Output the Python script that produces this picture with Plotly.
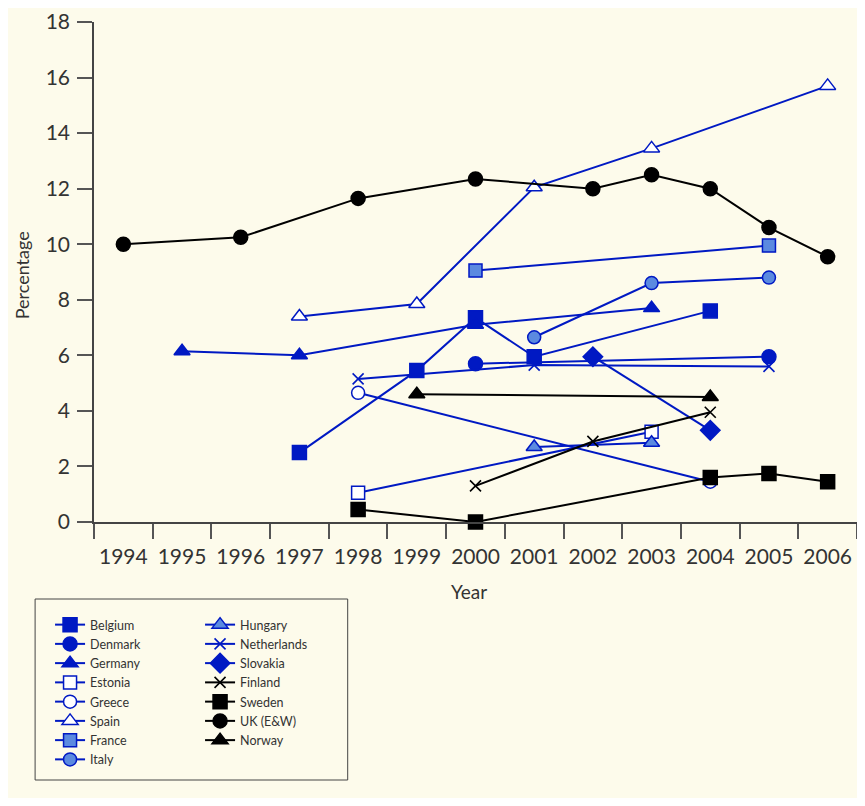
import plotly.graph_objects as go

# ---- data ----
belgium_years = [1997, 1999, 2000, 2001, 2004]
belgium_vals = [2.5, 5.45, 7.35, 5.95, 7.6]
denmark_years = [2000, 2005]
denmark_vals = [5.7, 5.95]
germany_years = [1995, 1997, 2000, 2003]
germany_vals = [6.15, 6.0, 7.1, 7.7]
estonia_years = [1998, 2003]
estonia_vals = [1.05, 3.25]
greece_years = [1998, 2004]
greece_vals = [4.65, 1.45]
spain_years = [1997, 1999, 2001, 2003, 2006]
spain_vals = [7.4, 7.85, 12.05, 13.45, 15.7]
france_years = [2000, 2005]
france_vals = [9.05, 9.95]
italy_years = [2001, 2003, 2005]
italy_vals = [6.65, 8.6, 8.8]
hungary_years = [2001, 2003]
hungary_vals = [2.7, 2.85]
netherlands_years = [1998, 2001, 2005]
netherlands_vals = [5.15, 5.65, 5.6]
slovakia_years = [2002, 2004]
slovakia_vals = [5.95, 3.3]
finland_years = [2000, 2002, 2004]
finland_vals = [1.3, 2.9, 3.95]
sweden_years = [1998, 2000, 2004, 2005, 2006]
sweden_vals = [0.45, 0.0, 1.6, 1.75, 1.45]
uk_years = [1994, 1996, 1998, 2000, 2002, 2003, 2004, 2005, 2006]
uk_vals = [10.0, 10.25, 11.65, 12.35, 12.0, 12.5, 12.0, 10.6, 9.55]
norway_years = [1999, 2004]
norway_vals = [4.6, 4.5]

year_ticks = list(range(1994, 2007))
y_ticks = list(range(0, 19, 2))

BLUE = "#0019c3"
LIGHT = "#5b8ae0"
BLACK = "#000000"
WHITE = "#ffffff"
BG = "#fdfbeb"
TXT = "#333333"
FONT = "Lato"

series = [
    ("Belgium", belgium_years, belgium_vals, BLUE, "square", BLUE, 14, "legend"),
    ("Denmark", denmark_years, denmark_vals, BLUE, "circle", BLUE, 14, "legend"),
    ("Germany", germany_years, germany_vals, BLUE, "triangle-up", BLUE, 14, "legend"),
    ("Estonia", estonia_years, estonia_vals, BLUE, "square", WHITE, 13, "legend"),
    ("Greece", greece_years, greece_vals, BLUE, "circle", WHITE, 13, "legend"),
    ("Spain", spain_years, spain_vals, BLUE, "triangle-up", WHITE, 14, "legend"),
    ("France", france_years, france_vals, BLUE, "square", LIGHT, 13, "legend"),
    ("Italy", italy_years, italy_vals, BLUE, "circle", LIGHT, 13, "legend"),
    ("Hungary", hungary_years, hungary_vals, BLUE, "triangle-up", LIGHT, 14, "legend2"),
    ("Netherlands", netherlands_years, netherlands_vals, BLUE, "x-thin", BLUE, 11, "legend2"),
    ("Slovakia", slovakia_years, slovakia_vals, BLUE, "diamond", BLUE, 15, "legend2"),
    ("Finland", finland_years, finland_vals, BLACK, "x-thin", BLACK, 11, "legend2"),
    ("Sweden", sweden_years, sweden_vals, BLACK, "square", BLACK, 14, "legend2"),
    ("UK (E&W)", uk_years, uk_vals, BLACK, "circle", BLACK, 14, "legend2"),
    ("Norway", norway_years, norway_vals, BLACK, "triangle-up", BLACK, 14, "legend2"),
]

fig = go.Figure()
for name, xs, ys, col, sym, fill, size, leg in series:
    thin = sym.startswith("x-thin")
    fig.add_trace(go.Scatter(
        x=xs, y=ys, name=name, mode="lines+markers", legend=leg,
        cliponaxis=False,
        line=dict(color=col, width=2),
        marker=dict(symbol=sym, size=size, color=fill,
                    line=dict(color=col, width=1.5 if not thin else 1.6)),
    ))

fig.update_layout(
    width=849, height=790,
    paper_bgcolor=BG, plot_bgcolor=BG,
    margin=dict(l=86, r=0, t=14, b=276, autoexpand=False),
    font=dict(family=FONT, color=TXT),
    legend=dict(x=-0.0576, y=-0.176, xanchor="left", yanchor="top",
                bgcolor="rgba(0,0,0,0)", font=dict(size=12.5, family=FONT, color=TXT)),
    legend2=dict(x=0.139, y=-0.176, xanchor="left", yanchor="top",
                 bgcolor="rgba(0,0,0,0)", font=dict(size=12.5, family=FONT, color=TXT)),
    xaxis=dict(
        range=[1993.5, 2006.5], tickvals=year_ticks, ticktext=[str(y) for y in year_ticks],
        ticks="", showgrid=False, zeroline=False, showline=True, linecolor="#444",
        linewidth=1.5, ticklabelstandoff=15,
        tickfont=dict(size=21, family=FONT, color=TXT),
        minor=dict(tick0=1993.5, dtick=1, ticks="outside", ticklen=15, tickcolor="#555", tickwidth=1.5),
    ),
    yaxis=dict(
        range=[0, 18], tickvals=y_ticks, ticks="outside", ticklen=15, tickcolor="#555", tickwidth=1.5,
        showgrid=False, zeroline=False, showline=True, linecolor="#444", linewidth=1.5,
        tickfont=dict(size=21, family=FONT, color=TXT), ticklabelstandoff=3,
    ),
    shapes=[dict(type="rect", xref="paper", yref="paper",
                 x0=-0.0772, x1=0.3325, y0=-0.516, y1=-0.154,
                 line=dict(color="#444", width=1), fillcolor="rgba(0,0,0,0)")],
    annotations=[
        dict(text="Year", xref="paper", yref="paper", x=0.492, y=-0.138, showarrow=False,
             font=dict(size=19, family=FONT, color=TXT), xanchor="center", yanchor="middle"),
        dict(text="Percentage", xref="paper", yref="paper", x=-0.094, y=0.494, showarrow=False,
             textangle=-90, font=dict(size=18, family=FONT, color=TXT), xanchor="center", yanchor="middle"),
    ],
)

fig.write_html("out.html")
